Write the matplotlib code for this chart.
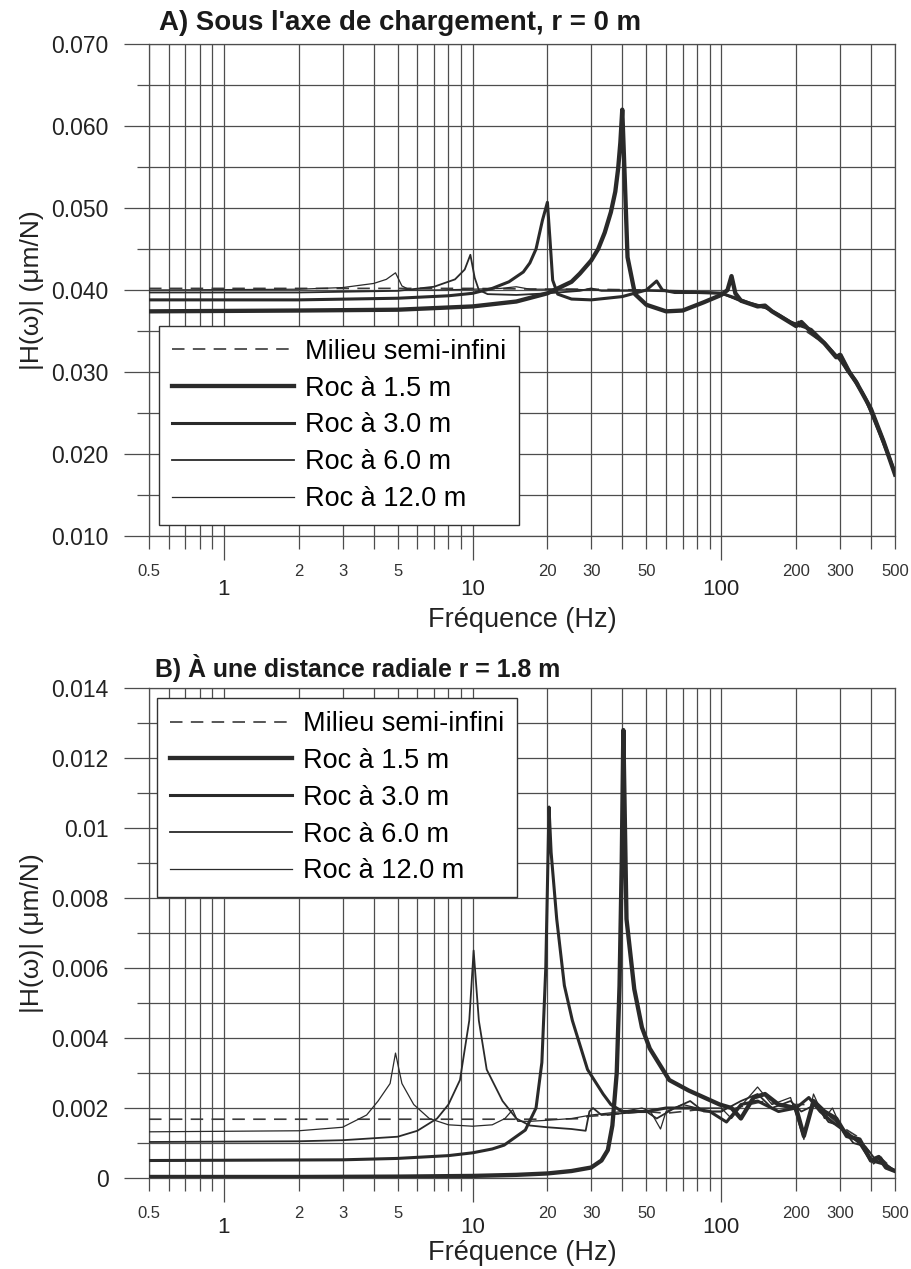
import matplotlib
matplotlib.use('Agg')
import matplotlib.pyplot as plt
from matplotlib.ticker import FixedLocator, FixedFormatter

plt.rcParams['font.family'] = ['Liberation Sans', 'DejaVu Sans']
plt.rcParams['lines.scale_dashes'] = False

# ---------------- data ----------------
labels = ["Milieu semi-infini", "Roc à 1.5 m", "Roc à 3.0 m", "Roc à 6.0 m", "Roc à 12.0 m"]

# Panel A : r = 0 m
A_semi_f = [0.5, 1, 2, 5, 10, 20, 30, 50, 70, 100, 120, 150, 200, 250, 300, 350, 400, 450, 500]
A_semi_v = [0.0402, 0.0402, 0.0402, 0.0402, 0.0402, 0.0401, 0.0401, 0.0400, 0.0399, 0.0396, 0.0387,
            0.0378, 0.0358, 0.0338, 0.0318, 0.0290, 0.0257, 0.0218, 0.0176]

A_15_f = [0.5, 2, 5, 10, 15, 20, 25, 27, 30, 32, 34, 36, 37.5, 38.5, 39.3, 40, 41, 42, 45, 50, 60,
          70, 85, 100, 106, 110, 114, 120, 140, 150, 160, 200, 210, 230, 260, 290, 300, 320, 350,
          400, 450, 500]
A_15_v = [0.0374, 0.0375, 0.0376, 0.0380, 0.0386, 0.0396, 0.0410, 0.0420, 0.0436, 0.0450, 0.0470,
          0.0495, 0.0520, 0.0548, 0.0580, 0.0620, 0.0530, 0.0440, 0.0395, 0.0382, 0.0374, 0.0375,
          0.0385, 0.0394, 0.0400, 0.0417, 0.0396, 0.0387, 0.0380, 0.0381, 0.0374, 0.0356, 0.0361,
          0.0349, 0.0335, 0.0318, 0.0321, 0.0304, 0.0287, 0.0255, 0.0215, 0.0175]

A_30_f = [0.5, 2, 5, 8, 10, 12, 14, 16, 17, 18, 19.1, 20, 20.5, 21, 22, 25, 30, 40, 50, 55, 58, 65,
          80, 100, 115, 130, 150, 170, 190, 210, 230, 260, 300, 340, 380, 420, 460, 500]
A_30_v = [0.0388, 0.0388, 0.0390, 0.0393, 0.0396, 0.0402, 0.0410, 0.0422, 0.0433, 0.0450, 0.0485,
          0.0507, 0.0460, 0.0412, 0.0395, 0.0389, 0.0388, 0.0392, 0.0400, 0.0411, 0.0400, 0.0397,
          0.0397, 0.0396, 0.0390, 0.0384, 0.0379, 0.0370, 0.0361, 0.0356, 0.0352, 0.0336, 0.0315,
          0.0292, 0.0268, 0.0238, 0.0207, 0.0177]

A_60_f = [0.5, 2, 5, 7, 8.5, 9.3, 9.8, 10.2, 10.6, 11.5, 15, 20, 27, 30, 33, 50, 70, 100, 120, 140,
          155, 175, 200, 215, 240, 270, 300, 330, 370, 420, 460, 500]
A_60_v = [0.0397, 0.0397, 0.0399, 0.0404, 0.0413, 0.0425, 0.0443, 0.0415, 0.0400, 0.0395, 0.0394,
          0.0396, 0.0399, 0.0402, 0.0399, 0.0399, 0.0398, 0.0396, 0.0386, 0.0380, 0.0377, 0.0367,
          0.0357, 0.0357, 0.0345, 0.0330, 0.0316, 0.0300, 0.0276, 0.0240, 0.0208, 0.0176]

A_120_f = [0.5, 2, 3, 4, 4.5, 4.9, 5.2, 5.6, 7, 10, 13, 15, 17, 20, 25, 30, 50, 70, 100, 120, 145,
           165, 195, 205, 225, 255, 285, 305, 330, 380, 430, 470, 500]
A_120_v = [0.0400, 0.0401, 0.0403, 0.0408, 0.0413, 0.0421, 0.0405, 0.0400, 0.0400, 0.0401, 0.0402,
           0.0404, 0.0401, 0.0401, 0.0401, 0.0400, 0.0400, 0.0399, 0.0397, 0.0386, 0.0381, 0.0372,
           0.0358, 0.0362, 0.0351, 0.0336, 0.0320, 0.0322, 0.0302, 0.0265, 0.0225, 0.0195, 0.0174]

# Panel B : r = 1.8 m
B_semi_f = [0.5, 2, 5, 10, 20, 25, 28, 29, 35, 40, 50, 60, 70, 80, 90, 100, 115, 130, 150, 170,
            200, 230, 260, 300, 350, 400, 450, 500]
B_semi_v = [0.00168, 0.00168, 0.00168, 0.00168, 0.00168, 0.00169, 0.00170, 0.00176, 0.00180,
            0.00185, 0.00190, 0.00185, 0.00190, 0.00195, 0.00190, 0.00190, 0.00200, 0.00210,
            0.00220, 0.00210, 0.00210, 0.00210, 0.00190, 0.00150, 0.00120, 0.00070, 0.00050, 0.00020]

B_15_f = [0.5, 2, 5, 10, 15, 20, 25, 30, 33, 35, 36.5, 38, 39, 39.8, 40.4, 41.6, 44.7, 48, 51.6,
          61.8, 74, 98.6, 110, 120, 135, 150, 170, 200, 215, 235, 260, 290, 320, 360, 400, 430, 460, 500]
B_15_v = [0.00003, 0.00003, 0.00004, 0.00006, 0.00009, 0.00013, 0.0002, 0.0003, 0.0005, 0.0008,
          0.0015, 0.0030, 0.0055, 0.0090, 0.0128, 0.0074, 0.0054, 0.0043, 0.0037, 0.0028, 0.0025,
          0.0021, 0.0020, 0.0017, 0.0023, 0.0024, 0.0021, 0.0020, 0.0012, 0.0022, 0.0019, 0.0017,
          0.0012, 0.0011, 0.0005, 0.0006, 0.0003, 0.0002]

B_30_f = [0.5, 3, 5, 8, 10, 12, 13.4, 16.3, 18, 19, 19.7, 20.3, 20.7, 21.8, 23.4, 25.2, 29, 33.5,
          36, 40, 50, 60, 75, 90, 105, 120, 140, 170, 200, 225, 250, 280, 320, 360, 400, 450, 500]
B_30_v = [0.00050, 0.00052, 0.00056, 0.00064, 0.00072, 0.00083, 0.00094, 0.00137, 0.0020, 0.0033,
          0.0060, 0.0106, 0.0093, 0.0074, 0.0055, 0.0045, 0.0031, 0.0024, 0.0021, 0.0019, 0.0019,
          0.0020, 0.0020, 0.0019, 0.0016, 0.0021, 0.0022, 0.0019, 0.0020, 0.0023, 0.0019, 0.0016,
          0.0013, 0.0010, 0.0005, 0.0004, 0.0002]

B_60_f = [0.5, 2, 3, 5, 6, 7.2, 8, 8.9, 9.7, 10.1, 10.6, 11.4, 13.2, 15, 17, 20, 25, 28.5, 29.5,
          30.5, 33, 40, 50, 55, 65, 75, 85, 100, 120, 140, 160, 190, 210, 240, 270, 300, 340, 380,
          420, 460, 500]
B_60_v = [0.00103, 0.00105, 0.00108, 0.00118, 0.00135, 0.0017, 0.0021, 0.0028, 0.0045, 0.0065,
          0.0045, 0.0031, 0.0022, 0.0017, 0.0015, 0.00145, 0.00140, 0.00135, 0.00190, 0.00200,
          0.00180, 0.00185, 0.00190, 0.00170, 0.00200, 0.00220, 0.00190, 0.00190, 0.00220, 0.00240,
          0.00200, 0.00220, 0.00190, 0.00210, 0.00160, 0.00150, 0.00100, 0.00090, 0.00050, 0.00040,
          0.00020]

B_120_f = [0.5, 2, 3, 3.75, 4.17, 4.66, 4.9, 5.2, 5.8, 6.7, 8, 10, 12, 13.5, 14.5, 15.2, 17, 20,
           25, 30, 40, 48, 52, 57, 60, 70, 80, 100, 110, 125, 140, 160, 190, 215, 235, 260, 280,
           310, 350, 380, 410, 440, 470, 500]
B_120_v = [0.00132, 0.00135, 0.00145, 0.0018, 0.0022, 0.0027, 0.00357, 0.0027, 0.0021, 0.0017,
           0.00152, 0.00148, 0.00152, 0.00170, 0.00195, 0.00162, 0.00162, 0.00165, 0.00170, 0.00180,
           0.00190, 0.00200, 0.00190, 0.00140, 0.00190, 0.00210, 0.00200, 0.00200, 0.00170, 0.00220,
           0.00260, 0.00210, 0.00230, 0.00110, 0.00240, 0.00170, 0.00200, 0.00130, 0.00110, 0.00080,
           0.00040, 0.00060, 0.00030, 0.00020]

x_major = [1, 10, 100]
x_major_labels = ["1", "10", "100"]
x_minor = [0.5, 0.6, 0.7, 0.8, 0.9, 2, 3, 4, 5, 6, 7, 8, 9, 20, 30, 40, 50, 60, 70, 80, 90,
           200, 300, 400, 500]
x_minor_shown = ["0.5", "2", "3", "5", "20", "30", "50", "200", "300", "500"]

A_y_major = [0.010, 0.020, 0.030, 0.040, 0.050, 0.060, 0.070]
A_y_major_labels = ["0.010", "0.020", "0.030", "0.040", "0.050", "0.060", "0.070"]
A_y_minor = [0.015, 0.025, 0.035, 0.045, 0.055, 0.065]
B_y_major = [0, 0.002, 0.004, 0.006, 0.008, 0.010, 0.012, 0.014]
B_y_major_labels = ["0", "0.002", "0.004", "0.006", "0.008", "0.01", "0.012", "0.014"]
B_y_minor = [0.001, 0.003, 0.005, 0.007, 0.009, 0.011, 0.013]

# ---------------- style ----------------
line_c = '#2a2a2a'
grid_c = '#4d4d4d'
styles = [dict(lw=1.2, color='#3a3a3a', dashes=(9, 6)),
          dict(lw=3.1, color=line_c),
          dict(lw=2.2, color=line_c),
          dict(lw=1.3, color=line_c),
          dict(lw=0.9, color=line_c)]

fig = plt.figure(figsize=(9.12, 12.69), dpi=100)
axA = fig.add_axes([0.1634, 0.5776, 0.8180, 0.3877])
axB = fig.add_axes([0.1634, 0.0717, 0.8180, 0.3861])


def setup(ax, ymin, ymax, ymaj, ymaj_lab, ymin_t, title, title_x, title_y, title_fs,
          major_pad, xlab_y):
    ax.set_xscale('log')
    ax.set_xlim(0.5, 500)
    ax.set_ylim(ymin, ymax)
    ax.xaxis.set_major_locator(FixedLocator(x_major))
    ax.xaxis.set_major_formatter(FixedFormatter(x_major_labels))
    ax.xaxis.set_minor_locator(FixedLocator(x_minor))
    ax.xaxis.set_minor_formatter(FixedFormatter(
        [("%g" % v) if ("%g" % v) in x_minor_shown else "" for v in x_minor]))
    ax.yaxis.set_major_locator(FixedLocator(ymaj))
    ax.yaxis.set_major_formatter(FixedFormatter(ymaj_lab))
    ax.yaxis.set_minor_locator(FixedLocator(ymin_t))
    ax.tick_params(axis='x', which='major', direction='out', length=17, width=0.9,
                   color=grid_c, labelsize=16, pad=major_pad, labelcolor='#222222')
    ax.tick_params(axis='x', which='minor', direction='out', length=9.5, width=0.9,
                   color=grid_c, labelsize=12, pad=11, labelcolor='#333333')
    ax.tick_params(axis='y', which='major', direction='out', length=18, width=0.9,
                   color=grid_c, labelsize=16.5, pad=11, labelcolor='#222222')
    ax.tick_params(axis='y', which='minor', direction='out', length=9, width=0.9,
                   color=grid_c)
    ax.grid(True, which='both', axis='both', color=grid_c, lw=0.9)
    for s in ax.spines.values():
        s.set_color(grid_c)
        s.set_linewidth(0.9)
    ax.set_axisbelow(True)
    ax.set_ylabel("|H(ω)| (μm/N)", fontsize=19, color='#222222')
    ax.yaxis.set_label_coords(-0.141, 0.5)
    ax.set_xlabel("Fréquence (Hz)", fontsize=19.5, color='#222222', va='center')
    ax.xaxis.set_label_coords(0.5, xlab_y)
    ax.text(title_x, title_y, title, transform=ax.transAxes, fontsize=title_fs,
            fontweight='bold', ha='left', va='baseline', color='#1a1a1a')


setup(axA, 0.010, 0.070, A_y_major, A_y_major_labels, A_y_minor,
      "A) Sous l'axe de chargement, r = 0 m", 0.013, 1.028, 19.9, 14, -0.171)
setup(axB, 0.0, 0.014, B_y_major, B_y_major_labels, B_y_minor,
      "B) À une distance radiale r = 1.8 m", 0.008, 1.022, 17.9, 11, -0.153)

A_data = [(A_semi_f, A_semi_v), (A_15_f, A_15_v), (A_30_f, A_30_v), (A_60_f, A_60_v), (A_120_f, A_120_v)]
B_data = [(B_semi_f, B_semi_v), (B_15_f, B_15_v), (B_30_f, B_30_v), (B_60_f, B_60_v), (B_120_f, B_120_v)]

for ax, data in ((axA, A_data), (axB, B_data)):
    for (f, v), lab, st in zip(data, labels, styles):
        ax.plot(f, v, label=lab, solid_joinstyle='round', zorder=3, **st)

leg_kw = dict(fontsize=19.5, frameon=True, fancybox=False, framealpha=1.0, edgecolor='#333333',
              handlelength=4.5, handletextpad=0.4, labelspacing=0.40, borderpad=0.48,
              borderaxespad=0.0)
legA = axA.legend(loc='lower left', bbox_to_anchor=(0.0134, 0.0224), **leg_kw)
legB = axB.legend(loc='upper left', bbox_to_anchor=(0.0107, 0.9796), **leg_kw)
for lg in (legA, legB):
    lg.get_frame().set_linewidth(1.0)
    lg.set_zorder(5)

fig.savefig('out.png', dpi=100, facecolor='white')
